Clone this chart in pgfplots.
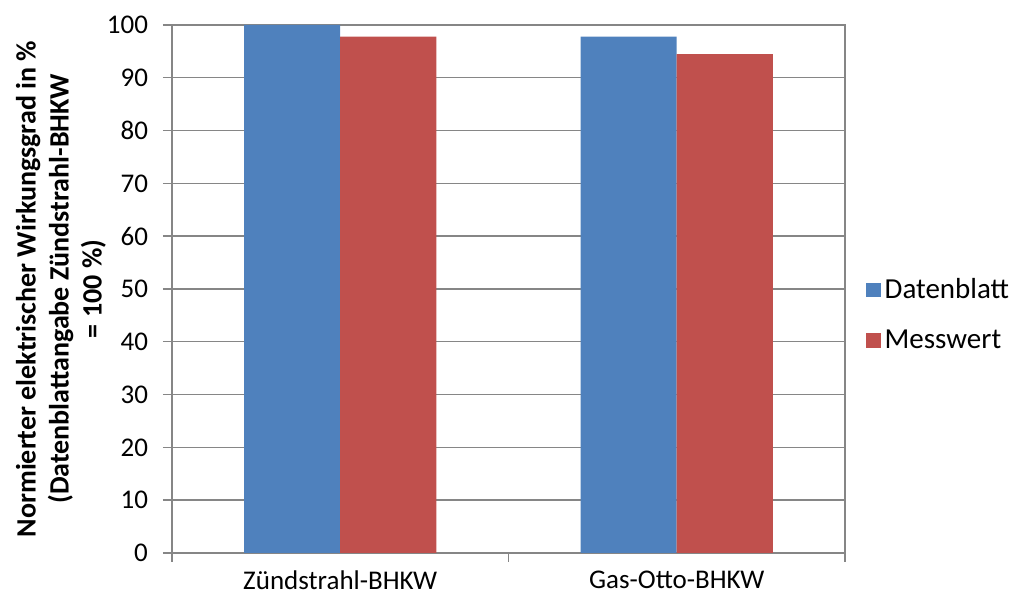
\documentclass[border=0pt]{standalone}
\usepackage{pgfplots}
\pgfplotsset{compat=1.18}
\usepackage{fontspec}
\setmainfont{Carlito}
\definecolor{barblue}{RGB}{79,129,189}
\definecolor{barred}{RGB}{192,80,77}
\definecolor{axgray}{RGB}{134,134,134}
\begin{document}
\begin{tikzpicture}
\begin{axis}[
  name=ax,
  scale only axis,
  width=336.5pt, height=264pt,
  ybar,
  bar width=0.2857,
  xmin=-0.5, xmax=1.5,
  ymin=0, ymax=100,
  ytick={0,10,...,100},
  xtick={0,1},
  xticklabels={Zündstrahl-BHKW, Gas-Otto-BHKW},
  minor xtick={-0.5,0.5,1.5},
  major x tick style={draw=none},
  minor x tick style={axgray, line width=0.7pt},
  ytick style={axgray, line width=0.7pt},
  tick align=outside,
  tick pos=left,
  major tick length=4.5pt,
  minor tick length=4.5pt,
  ymajorgrids,
  grid style={axgray, line width=0.7pt},
  axis line style={axgray, line width=0.7pt},
  font=\fontsize{13.5}{16}\selectfont,
  /pgf/number format/assume math mode=true,
  xticklabel style={yshift=-1pt},
  yticklabel style={xshift=-4pt},
  ylabel={Normierter elektrischer Wirkungsgrad in \%\\(Datenblattangabe Zündstrahl-BHKW\\= 100 \%)},
  ylabel style={at={(axis description cs:-0.165,0.5)}, anchor=center, align=center, font=\fontsize{14}{16.5}\selectfont\bfseries},
  legend style={at={(axis description cs:1.031,0.451)}, anchor=west, draw=none, fill=none,
    font=\fontsize{14.5}{16}\selectfont, row sep=10pt, inner sep=0pt},
  legend cell align=left,
  legend image code/.code={\fill[#1] (0pt,-3.6pt) rectangle (7.2pt,3.6pt);},
]
\addplot[fill=barblue, draw=none, bar shift=-0.14285] coordinates {(0,100) (1,97.8)};
\addplot[fill=barred, draw=none, bar shift=0.14285] coordinates {(0,97.8) (1,94.5)};
\legend{Datenblatt, Messwert}
\end{axis}
\pgfresetboundingbox
\path (ax.south west) ++(-86pt,-22pt) coordinate (bl);
\path (ax.north east) ++(89.5pt,12.5pt) coordinate (tr);
\path (bl) rectangle (tr);
\end{tikzpicture}
\end{document}
